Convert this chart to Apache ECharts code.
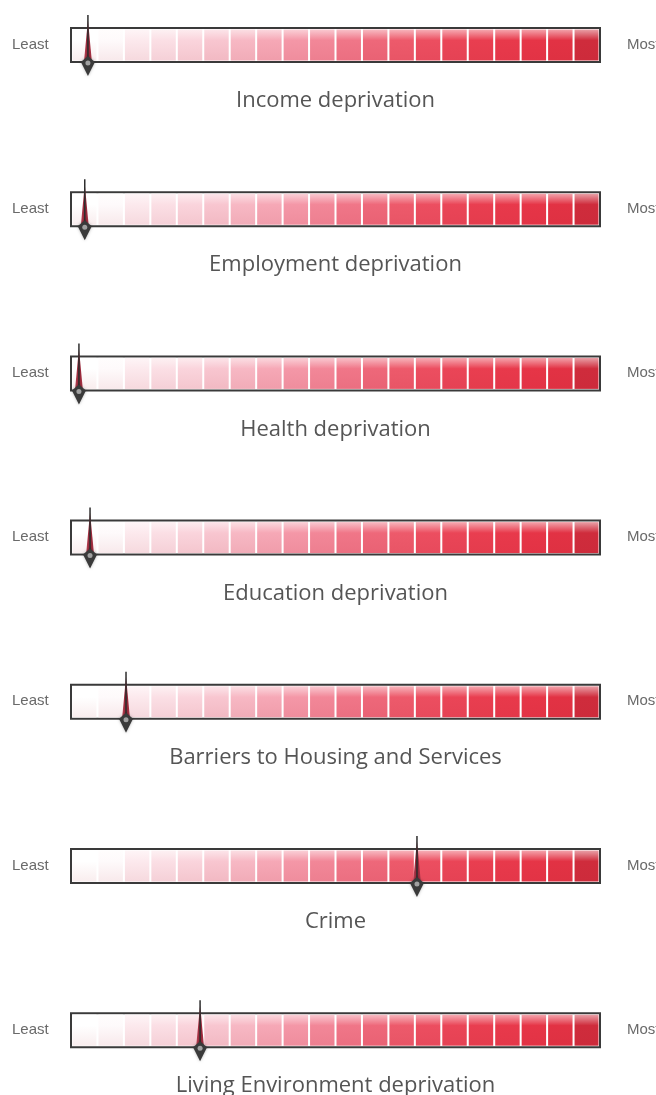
<!DOCTYPE html>
<html><head><meta charset="utf-8">
<script src="https://cdn.jsdelivr.net/npm/echarts@6/dist/echarts.min.js"></script>
<style>html,body{margin:0;padding:0;background:#fff}#c{width:656px;height:1095px}</style>
</head><body><div id="c"></div>
<script>
// ---- data ----
const categories = [
  'Income deprivation',
  'Employment deprivation',
  'Health deprivation',
  'Education deprivation',
  'Barriers to Housing and Services',
  'Crime',
  'Living Environment deprivation'
];
// marker position along the scale, 0 = least deprived, 100 = most deprived
const values = [3.2, 2.6, 1.5, 3.6, 10.4, 65.4, 24.4];
const scaleMin = 0;
const scaleMax = 100;
const cellCount = 20;
const endLabels = ['Least', 'Most'];

// ---- palette (style) ----
const cellColors = ['#ffffff','#fefafb','#fce9ed','#fbdfe5','#fad4dc','#f8c6d0','#f7b8c4','#f6a8b6',
  '#f497a7','#f28798','#f07688','#ee687a','#ed5a6b','#ec4e60','#ea4557','#e93e50','#e8394b','#e63547','#e23244','#cf2c3c'];

function mix(hex, w, t) {
  const a = parseInt(hex.slice(1), 16), b = parseInt(w.slice(1), 16);
  const r = Math.round(((a >> 16) & 255) * (1 - t) + ((b >> 16) & 255) * t);
  const g = Math.round(((a >> 8) & 255) * (1 - t) + ((b >> 8) & 255) * t);
  const bl = Math.round((a & 255) * (1 - t) + (b & 255) * t);
  return 'rgb(' + r + ',' + g + ',' + bl + ')';
}

const chart = echarts.init(document.getElementById('c'));
const firstTop = 28, step = 164.2, barH = 34, left = 71, right = 56;
const grids = [], xAxes = [], yAxes = [], series = [], graphics = [];
const cellWidth = (scaleMax - scaleMin) / cellCount;
const cellData = [];
for (let i = 0; i < cellCount; i++) cellData.push([scaleMin + i * cellWidth, scaleMin + (i + 1) * cellWidth, i]);

categories.forEach((name, k) => {
  const top = firstTop + k * step;
  grids.push({left: left, right: right, top: top, height: barH, show: true,
    backgroundColor: '#fff', borderColor: '#3a3a3a', borderWidth: 2});
  xAxes.push({type: 'value', gridIndex: k, min: scaleMin, max: scaleMax, show: false});
  yAxes.push({type: 'value', gridIndex: k, min: 0, max: 1, show: false});
  series.push({
    type: 'custom', xAxisIndex: k, yAxisIndex: k, silent: true,
    data: cellData,
    renderItem: function (params, api) {
      const a = api.coord([api.value(0), 1]);
      const b = api.coord([api.value(1), 0]);
      const idx = api.value(2);
      const c = cellColors[idx];
      let x0 = a[0] + 1, x1 = b[0] - 1;
      if (idx === 0) x0 = a[0] + 1.5;
      if (idx === cellCount - 1) x1 = b[0] - 1.5;
      return {
        type: 'rect',
        shape: {x: x0, y: a[1] + 1.5, width: x1 - x0, height: b[1] - a[1] - 3},
        style: {fill: new echarts.graphic.LinearGradient(0, 0, 0, 1, [
          {offset: 0, color: mix(c, '#ffffff', 0.55)},
          {offset: 0.35, color: c},
          {offset: 1, color: mix(c, '#b02030', 0.08)}
        ])}
      };
    }
  });
  series.push({
    type: 'custom', xAxisIndex: k, yAxisIndex: k, silent: true, z: 5, clip: false,
    data: [[values[k]]],
    renderItem: function (params, api) {
      const p = api.coord([api.value(0), 0]);
      const t = api.coord([api.value(0), 1]);
      const x = p[0], yb = p[1], yt = t[1];
      return {type: 'group', children: [
        {type: 'polygon', shape: {points: [[x - 4, yb], [x + 4, yb], [x, yt - 8]]},
          style: {fill: new echarts.graphic.LinearGradient(0, 0, 1, 0, [
            {offset: 0, color: '#c0485a'}, {offset: 0.5, color: '#8a1f30'}, {offset: 1, color: '#b03a4c'}])}},
        {type: 'line', shape: {x1: x, y1: yt - 13, x2: x, y2: yb + 12}, style: {stroke: '#2e2e2e', lineWidth: 1.5}},
        {type: 'polygon', shape: {points: [[x, yb - 6], [x + 7, yb], [x, yb + 14], [x - 7, yb]]},
          style: {fill: '#3a3a3a', shadowBlur: 3, shadowColor: 'rgba(0,0,0,0.3)'}},
        {type: 'circle', shape: {cx: x, cy: yb + 1, r: 2.5}, style: {fill: '#a0a0a0'}}
      ]};
    }
  });
  graphics.push({type: 'text', left: 12, top: top + barH / 2 - 8,
    style: {text: endLabels[0], font: '15px "Liberation Sans", Arial, sans-serif', fill: '#6a6a6a'}});
  graphics.push({type: 'text', left: 627, top: top + barH / 2 - 8,
    style: {text: endLabels[1], font: '15px "Liberation Sans", Arial, sans-serif', fill: '#6a6a6a'}});
  graphics.push({type: 'text', x: (left + 656 - right) / 2, y: top + 73,
    style: {text: name, font: '22px "Open Sans", sans-serif', fill: '#555', align: 'center', verticalAlign: 'middle'}});
});

chart.setOption({
  animation: false,
  grid: grids, xAxis: xAxes, yAxis: yAxes, series: series, graphic: graphics
});
</script>
</body></html>
